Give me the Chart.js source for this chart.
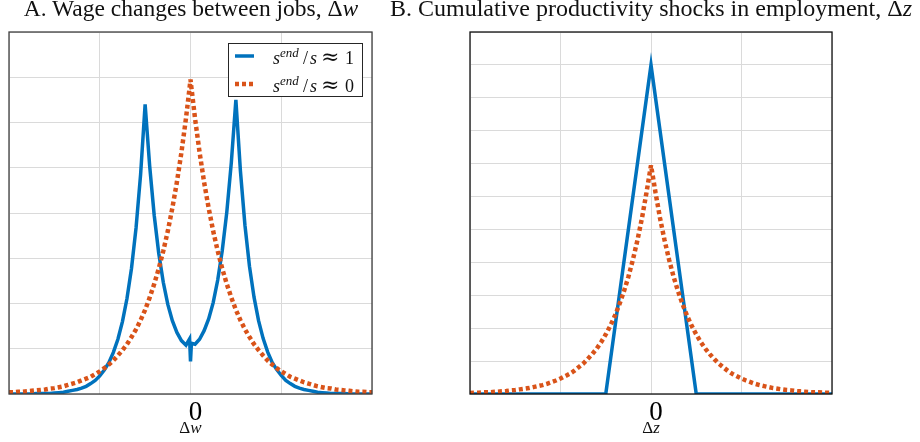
<!DOCTYPE html>
<html>
<head>
<meta charset="utf-8">
<script src="https://cdn.jsdelivr.net/npm/chart.js@4"></script>
<style>
body{margin:0;background:#fff;width:920px;height:442px;position:relative;overflow:hidden;font-family:"Liberation Serif",serif}
.title{position:absolute;top:-3px;font-size:23.5px;line-height:23.5px;white-space:nowrap;color:#111;transform:translateX(-50%)}
#tA{left:191px}
#tB{left:651px;font-size:24px}
.box{position:absolute;top:0;width:460px;height:442px}
</style>
</head>
<body>
<div class="box" style="left:0"><canvas id="chartA" width="460" height="442"></canvas></div>
<div class="box" style="left:460px"><canvas id="chartB" width="460" height="442"></canvas></div>
<div class="title" id="tA">A. Wage changes between jobs, Δ<i>w</i></div>
<div class="title" id="tB">B. Cumulative productivity shocks in employment, Δ<i>z</i></div>
<script>
// panel A: wage changes
var wageX = [-2,-1.95,-1.9,-1.85,-1.8,-1.75,-1.7,-1.65,-1.6,-1.55,-1.5,-1.45,-1.4,-1.35,-1.3,-1.25,-1.2,-1.15,-1.1,-1.05,
  -1,-0.95,-0.9,-0.85,-0.8,-0.75,-0.7,-0.65,-0.6,-0.55,-0.5,-0.45,-0.4,-0.35,-0.3,-0.25,-0.2,-0.15,-0.1,-0.05,
  -0.01,0,0.01,
  0.05,0.1,0.15,0.2,0.25,0.3,0.35,0.4,0.45,0.5,0.55,0.6,0.65,0.7,0.75,0.8,0.85,0.9,0.95,1,
  1.05,1.1,1.15,1.2,1.25,1.3,1.35,1.4,1.45,1.5,1.55,1.6,1.65,1.7,1.75,1.8,1.85,1.9,1.95,2];
var wageBlue = [0,0,0,0,0,0,0.01,0.01,0.01,0.01, 0.02,0.03,0.04,0.06,0.08,0.10,0.13,0.17,0.23,0.30,
  0.40,0.53,0.69,0.92,1.21,1.60,2.11,2.78,3.67,4.85, 6.40,5.04,3.95,3.11,2.47,1.98,1.62,1.36,1.18,1.08,
  1.22,0.72,1.12,
  1.10,1.21,1.40,1.66,2.02,2.52,3.17,4.02,5.12,6.50, 4.93,3.73,2.82,2.14,1.62,1.23,0.93,0.70,0.54,0.41,
  0.30,0.23,0.17,0.13,0.10,0.08,0.06,0.04,0.03,0.02, 0.01,0.01,0.01,0.01,0,0,0,0,0,0];
var wageOrange = [0.04,0.04,0.05,0.05,0.06,0.07,0.08,0.09,0.10,0.12, 0.13,0.15,0.17,0.20,0.23,0.26,0.30,0.34,0.38,0.44,
  0.50,0.57,0.65,0.74,0.85,0.97,1.10,1.26,1.43,1.63, 1.86,2.13,2.43,2.77,3.16,3.60,4.11,4.68,5.34,6.09,
  6.77,6.95,6.77,
  6.09,5.34,4.68,4.11,3.60,3.16,2.77,2.43,2.13,1.86, 1.63,1.43,1.26,1.10,0.97,0.85,0.74,0.65,0.57,0.50,
  0.44,0.38,0.34,0.30,0.26,0.23,0.20,0.17,0.15,0.13, 0.12,0.10,0.09,0.08,0.07,0.06,0.05,0.05,0.04,0.04];

// panel B: productivity shocks
var shockX = [-2,-1.95,-1.9,-1.85,-1.8,-1.75,-1.7,-1.65,-1.6,-1.55,-1.5,-1.45,-1.4,-1.35,-1.3,-1.25,-1.2,-1.15,-1.1,-1.05,
  -1,-0.95,-0.9,-0.85,-0.8,-0.75,-0.7,-0.65,-0.6,-0.55,-0.5,-0.45,-0.4,-0.35,-0.3,-0.25,-0.2,-0.15,-0.1,-0.05,
  0,
  0.05,0.1,0.15,0.2,0.25,0.3,0.35,0.4,0.45,0.5,0.55,0.6,0.65,0.7,0.75,0.8,0.85,0.9,0.95,1,
  1.05,1.1,1.15,1.2,1.25,1.3,1.35,1.4,1.45,1.5,1.55,1.6,1.65,1.7,1.75,1.8,1.85,1.9,1.95,2];
var shockOrange = [0.03,0.04,0.04,0.05,0.05,0.06,0.07,0.08,0.09,0.11, 0.12,0.14,0.16,0.18,0.21,0.24,0.27,0.31,0.36,0.41,
  0.47,0.54,0.61,0.70,0.81,0.92,1.06,1.21,1.38,1.58, 1.81,2.07,2.37,2.72,3.11,3.56,4.08,4.67,5.34,6.12,
  6.95,
  6.12,5.34,4.67,4.08,3.56,3.11,2.72,2.37,2.07,1.81, 1.58,1.38,1.21,1.06,0.92,0.81,0.70,0.61,0.54,0.47,
  0.41,0.36,0.31,0.27,0.24,0.21,0.18,0.16,0.14,0.12, 0.11,0.09,0.08,0.07,0.06,0.05,0.05,0.04,0.04,0.03];
var shockBlueX = [-2,-0.5,0,0.5,2];
var shockBlue = [0,0,10,0,0];

var seriesLabels = ['1', '0'];
var xTicks = [-2, -1, 0, 1, 2];

var blue = '#0072BD';
var orange = '#D95319';

function pts(xs, ys) {
  return xs.map((x, i) => ({x: x, y: ys[i]}));
}

var frame = {
  id: 'frame',
  afterDraw(chart, args, opts) {
    var ctx = chart.ctx, a = chart.chartArea;
    ctx.save();
    ctx.strokeStyle = opts.boxColor;
    ctx.lineWidth = 1.3;
    ctx.strokeRect(a.left, a.top, a.right - a.left, a.bottom - a.top);

    // axis label under the 0 tick
    var cx = chart.scales.x.getPixelForValue(0);
    ctx.fillStyle = '#111';
    ctx.textBaseline = 'alphabetic';
    ctx.font = '17px "Liberation Serif"';
    var w1 = ctx.measureText('Δ').width;
    ctx.font = 'italic 17px "Liberation Serif"';
    var w2 = ctx.measureText(opts.label).width;
    var sx = cx - (w1 + w2) / 2;
    ctx.font = '17px "Liberation Serif"';
    ctx.fillText('Δ', sx, 433);
    ctx.font = 'italic 17px "Liberation Serif"';
    ctx.fillText(opts.label, sx + w1, 433);

    if (opts.legend) {
      var lx = 228, ly = 43, lw = 134, lh = 53;
      ctx.fillStyle = '#fff';
      ctx.fillRect(lx, ly, lw, lh);
      ctx.strokeStyle = '#262626';
      ctx.lineWidth = 1;
      ctx.strokeRect(lx + 0.5, ly + 0.5, lw, lh);
      chart.data.datasets.forEach(function(ds, i) {
        var yy = 56 + i * 28;
        ctx.strokeStyle = ds.borderColor;
        ctx.lineWidth = ds.borderWidth;
        ctx.setLineDash(ds.borderDash || []);
        ctx.beginPath();
        ctx.moveTo(235, yy);
        ctx.lineTo(254, yy);
        ctx.stroke();
        ctx.setLineDash([]);
        var base = yy + 7.5;
        var parts = [
          ['italic 18px "Liberation Serif"', 's', 273, 0],
          ['italic 13px "Liberation Serif"', 'end', 280, -7],
          ['18px "Liberation Serif"', '/', 303, 0],
          ['italic 18px "Liberation Serif"', 's', 310, 0],
          ['22px "DejaVu Serif"', '≈', 321, 0],
          ['18px "Liberation Serif"', seriesLabels[i], 345, 0]
        ];
        ctx.fillStyle = '#111';
        parts.forEach(function(p) {
          ctx.font = p[0];
          ctx.fillText(p[1], p[2], base + p[3]);
        });
      });
    }
    ctx.restore();
  }
};

function makeOptions(yMax, label, legend, padLeft, boxColor) {
  return {
    responsive: false,
    animation: false,
    layout: {padding: {left: padLeft, right: 88, top: 32, bottom: 0}},
    plugins: {
      legend: {display: false},
      tooltip: {enabled: false},
      frame: {label: label, legend: legend, boxColor: boxColor}
    },
    scales: {
      x: {
        type: 'linear', min: -2, max: 2,
        afterBuildTicks: function(s) { s.ticks = xTicks.map(v => ({value: v})); },
        afterFit: function(s) { s.height = 48; },
        grid: {color: '#dadada', lineWidth: 1, drawTicks: false},
        border: {display: false},
        ticks: {
          padding: 3, color: '#000', labelOffset: 5,
          font: {family: '"Liberation Serif"', size: 27},
          callback: v => v === 0 ? '0' : ''
        }
      },
      y: {
        min: 0, max: yMax,
        afterFit: function(s) { s.width = 0; },
        grid: {color: '#dadada', lineWidth: 1, drawTicks: false},
        border: {display: false},
        ticks: {stepSize: 1, display: false}
      }
    }
  };
}

new Chart(document.getElementById('chartA'), {
  type: 'line',
  data: {
    datasets: [
      {data: pts(wageX, wageBlue), borderColor: blue, borderWidth: 3.5, pointRadius: 0, tension: 0, order: 1},
      {data: pts(wageX, wageOrange), borderColor: orange, borderWidth: 4.5, borderDash: [4, 3], borderCapStyle: 'butt', borderJoinStyle: 'bevel', pointRadius: 0, tension: 0, order: 0}
    ]
  },
  options: makeOptions(8, 'w', true, 9, '#404040'),
  plugins: [frame]
});

new Chart(document.getElementById('chartB'), {
  type: 'line',
  data: {
    datasets: [
      {data: pts(shockBlueX, shockBlue), borderColor: blue, borderWidth: 3.5, pointRadius: 0, tension: 0, order: 1},
      {data: pts(shockX, shockOrange), borderColor: orange, borderWidth: 4.5, borderDash: [4, 3], borderCapStyle: 'butt', borderJoinStyle: 'bevel', pointRadius: 0, tension: 0, order: 0}
    ]
  },
  options: makeOptions(11, 'z', false, 10, '#111'),
  plugins: [frame]
});
</script>
</body>
</html>
